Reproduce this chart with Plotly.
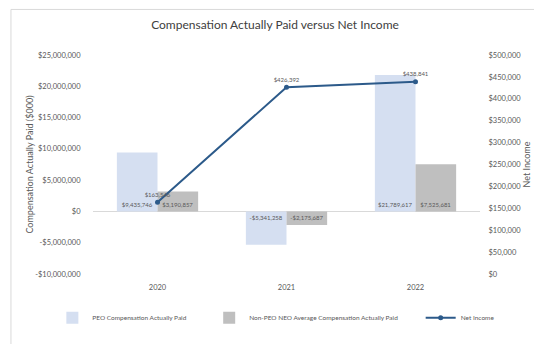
import plotly.graph_objects as go

# Chart data
years = ["2020", "2021", "2022"]
peo_cap = [9435746, -5341258, 21789617]
non_peo_cap = [3190857, -2175687, 7525681]
net_income = [163546, 426392, 438841]

peo_labels = ["$9,435,746", "-$5,341,258", "$21,789,617"]
non_peo_labels = ["$3,190,857", "-$2,175,687", "$7,525,681"]
income_labels = ["$163,546", "$426,392", "$438,841"]

left_tick_vals = [-10000000, -5000000, 0, 5000000, 10000000, 15000000, 20000000, 25000000]
left_tick_text = ["-$10,000,000", "-$5,000,000", "$0", "$5,000,000", "$10,000,000",
                  "$15,000,000", "$20,000,000", "$25,000,000"]
right_tick_vals = [0, 50000, 100000, 150000, 200000, 250000, 300000, 350000, 400000, 450000, 500000]
right_tick_text = ["$0", "$50,000", "$100,000", "$150,000", "$200,000", "$250,000",
                   "$300,000", "$350,000", "$400,000", "$450,000", "$500,000"]

font_name = "Lato"
grey_text = "#595959"
# invisible wide spaces so the legend entries sit further apart, like the reference
legend_pad = "\u2003\u2003\u2003\u2002"

fig = go.Figure()

# PEO bars
fig.add_trace(go.Bar(
    x=years, y=peo_cap, name="PEO Compensation Actually Paid" + legend_pad,
    marker=dict(color="#D5DFF1", line=dict(width=0)),
    text=peo_labels, textposition="inside", insidetextanchor="start", textangle=0,
    textfont=dict(size=6, color=grey_text, family=font_name),
    constraintext="none", cliponaxis=False
))

# Non-PEO bars
fig.add_trace(go.Bar(
    x=years, y=non_peo_cap, name="Non-PEO NEO Average Compensation Actually Paid" + legend_pad,
    marker=dict(color="#BFBFBF", line=dict(width=0)),
    text=non_peo_labels, textposition="inside", insidetextanchor="start", textangle=0,
    textfont=dict(size=6, color=grey_text, family=font_name),
    constraintext="none", cliponaxis=False
))

# Net income line on the right axis
fig.add_trace(go.Scatter(
    x=years, y=net_income, name="Net Income", yaxis="y2",
    mode="lines+markers+text",
    line=dict(color="#2C5A8A", width=2),
    marker=dict(color="#2C5A8A", size=5),
    text=income_labels, textposition="top center",
    textfont=dict(size=6, color=grey_text, family=font_name),
    cliponaxis=False
))

# page body adds an 8px margin, so the figure is 8px smaller and offsets are shifted
fig.update_layout(
    width=534, height=336,
    margin=dict(l=85, r=62, t=47, b=68),
    paper_bgcolor="white", plot_bgcolor="white",
    font=dict(family=font_name, color=grey_text),
    title=dict(text="Compensation Actually Paid versus Net Income",
               x=0.5, xanchor="center", y=0.949, yanchor="middle",
               font=dict(size=12, color="#404040", family=font_name)),
    barmode="group", bargap=0.37, bargroupgap=0,
    showlegend=True,
    # anchored left of the plot area so the legend may use the full width in one row
    legend=dict(orientation="h", x=-0.105, xanchor="left",
                y=-0.2, yanchor="middle", bgcolor="rgba(0,0,0,0)",
                font=dict(size=6.5, color=grey_text), itemwidth=30,
                traceorder="normal"),
    xaxis=dict(type="category", showgrid=False, showline=False, zeroline=False,
               ticks="outside", ticklen=6, tickcolor="white", automargin=False,
               tickfont=dict(size=7.5, color=grey_text)),
    yaxis=dict(range=[-10000000, 25000000], tickvals=left_tick_vals, ticktext=left_tick_text,
               showgrid=False, showline=False, automargin=False,
               zeroline=True, zerolinecolor="#D9D9D9", zerolinewidth=1,
               ticks="outside", ticklen=10, tickcolor="white",
               tickfont=dict(size=7.5, color=grey_text),
               title=dict(text="Compensation Actually Paid ($000)", standoff=0,
                          font=dict(size=9, color=grey_text))),
    yaxis2=dict(range=[0, 500000], tickvals=right_tick_vals, ticktext=right_tick_text,
                overlaying="y", side="right", showgrid=False, showline=False, zeroline=False,
                ticks="outside", ticklen=6, tickcolor="white", automargin=False,
                tickfont=dict(size=7.5, color=grey_text),
                title=dict(text="Net Income", standoff=3,
                           font=dict(size=9, color=grey_text))),
)

# Light outer frame of the chart box (runs past the right and bottom edges)
fig.add_shape(type="rect", xref="paper", yref="paper",
              x0=-0.212, x1=1.5, y0=-0.5, y1=1.208,
              line=dict(color="#D9D9D9", width=1), fillcolor="rgba(0,0,0,0)", layer="below")

fig.write_html("out.html")
